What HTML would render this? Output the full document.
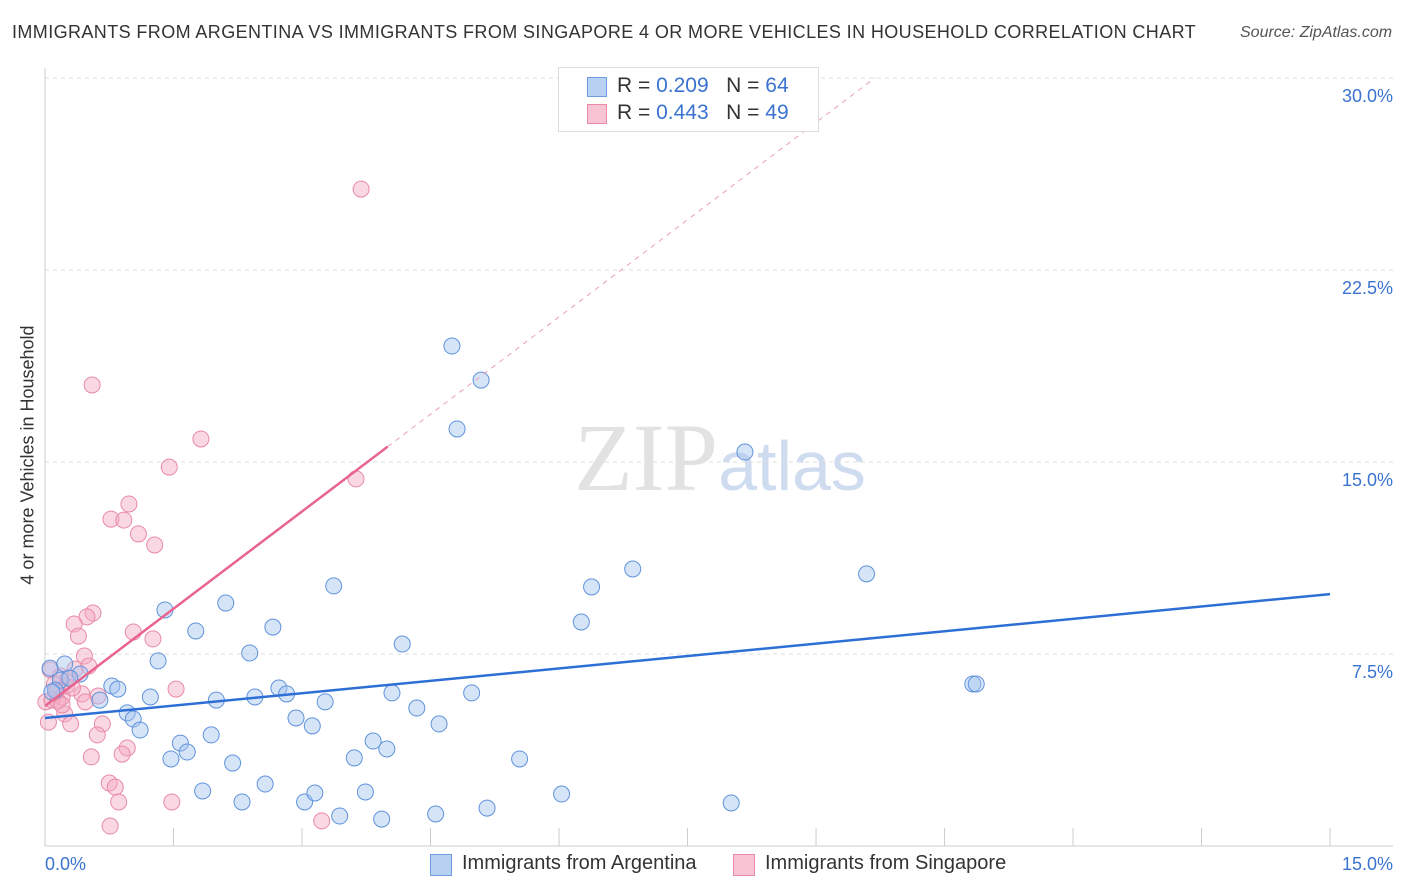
<!DOCTYPE html>
<html><head><meta charset="utf-8">
<style>
body{margin:0;background:#fff;font-family:"Liberation Sans",sans-serif;}
#wrap{position:relative;width:1406px;height:892px;overflow:hidden;}
.t{position:absolute;white-space:nowrap;}
</style></head><body>
<div id="wrap">
<div class="t" style="left:12px;top:22px;font-size:18px;letter-spacing:0.4px;color:#333;">IMMIGRANTS FROM ARGENTINA VS IMMIGRANTS FROM SINGAPORE 4 OR MORE VEHICLES IN HOUSEHOLD CORRELATION CHART</div>
<div class="t" style="left:1240px;top:24px;font-size:16px;color:#555;font-style:italic;">Source: ZipAtlas.com</div>
<div class="t" style="left:28px;top:455px;font-size:18px;color:#333;transform:translate(-50%,-50%) rotate(-90deg);">4 or more Vehicles in Household</div>
<svg id="svg" width="1406" height="892" style="position:absolute;left:0;top:0">
<text x="720" y="490" text-anchor="middle" font-family="Liberation Serif" font-size="96" fill="#e2e2e2">ZIP<tspan font-family="Liberation Sans" font-size="70" fill="#cfdcf0">atlas</tspan></text>
</svg>
<div style="position:absolute;left:558px;top:67px;width:259px;height:63px;border:1px solid #ddd;background:#fff;font-size:21px;color:#333;">
<div style="position:absolute;left:28px;top:9px;width:18px;height:18px;background:#b8d1f3;border:1px solid #6d9ee0"></div>
<div class="t" style="left:58px;top:6px">R = <span style="color:#3b73d1">0.209</span>&nbsp;&nbsp;&nbsp;N = <span style="color:#3b73d1">64</span></div>
<div style="position:absolute;left:28px;top:36px;width:18px;height:18px;background:#f8c4d4;border:1px solid #e88aa8"></div>
<div class="t" style="left:58px;top:33px">R = <span style="color:#3b73d1">0.443</span>&nbsp;&nbsp;&nbsp;N = <span style="color:#3b73d1">49</span></div>
</div>
<div style="position:absolute;left:430px;top:852px;font-size:20px;color:#333;">
<div style="position:absolute;left:0;top:2px;width:20px;height:20px;background:#b8d1f3;border:1px solid #6d9ee0"></div>
<div class="t" style="left:32px;top:0">Immigrants from Argentina</div>
<div style="position:absolute;left:303px;top:2px;width:20px;height:20px;background:#f8c4d4;border:1px solid #e88aa8"></div>
<div class="t" style="left:335px;top:0">Immigrants from Singapore</div>
</div>
</div>
<script>
const yTicks=[7.5,15,22.5,30];
const yTickLabels=["7.5%","15.0%","22.5%","30.0%"];
const xTicks=[1.5,3,4.5,6,7.5,9,10.5,12,13.5,15];
const xLabels=["0.0%","15.0%"];
const blueTrend=[5.0,9.84];
const pinkTrend=[5.47,15.6];
const bluePx=[[452,346],[481,380],[457,429],[745,452],[633,569],[867,574],[592,587],[334,586],[581,622],[165,610],[226,603],[196,631],[273,627],[402,644],[250,653],[158,661],[973,684],[976,684],[50,668],[65,664],[80,674],[60,680],[55,690],[112,686],[118,689],[100,700],[150,697],[216,700],[255,697],[279,688],[287,694],[325,702],[392,693],[472,693],[417,708],[127,713],[133,719],[140,730],[296,718],[312,726],[439,724],[180,743],[187,752],[211,735],[171,759],[233,763],[354,758],[373,741],[387,749],[520,759],[265,784],[203,791],[242,802],[305,802],[315,793],[365,792],[562,794],[731,803],[487,808],[340,816],[382,819],[436,814],[52,692],[70,678]];
const pinkPx=[[361,189],[92,385],[201,439],[169,467],[356,479],[129,504],[111,519],[124,520],[138,534],[155,545],[93,613],[87,617],[74,624],[78,636],[133,632],[153,639],[84,656],[89,666],[75,669],[60,676],[50,670],[54,684],[66,686],[82,694],[176,689],[62,697],[46,702],[52,700],[58,701],[48,722],[65,714],[71,724],[102,724],[97,735],[127,748],[122,754],[91,757],[109,783],[115,787],[119,802],[172,802],[110,826],[322,821],[56,692],[72,688],[98,696],[62,705],[85,702],[68,678]];
// data values (percent)
const blueX=bluePx.map(p=>+((p[0]-45)/85.67).toFixed(2));
const blueY=bluePx.map(p=>+((846-p[1])/25.6).toFixed(2));
const pinkX=pinkPx.map(p=>+((p[0]-45)/85.67).toFixed(2));
const pinkY=pinkPx.map(p=>+((846-p[1])/25.6).toFixed(2));
const X=v=>45+v*85.67, Y=v=>846-v*25.6;
const svg=document.getElementById('svg');const NS='http://www.w3.org/2000/svg';
function mk(tag,a){const e=document.createElementNS(NS,tag);for(const k in a)e.setAttribute(k,a[k]);svg.appendChild(e);return e;}
yTicks.forEach((t,i)=>{
 const g=mk('line',{x1:45,x2:1393,y1:Y(t),y2:Y(t),stroke:'#ddd','stroke-dasharray':'4,4'});
 
 
 const l=mk('text',{x:1393,y:Y(t)+24,'text-anchor':'end','font-size':18,fill:'#3b73d1'});l.textContent=yTickLabels[i];
 
 
});
const ax=mk('line',{x1:45,x2:1393,y1:846,y2:846,stroke:'#ccc'});


const ay=mk('line',{x1:45,x2:45,y1:68,y2:846,stroke:'#ccc'});


xTicks.forEach(t=>{const e=mk('line',{x1:X(t),x2:X(t),y1:828,y2:846,stroke:'#ccc'});
 
 });
[[0,'start',45],[15,'end',1393]].forEach((d,i)=>{const l=mk('text',{x:d[2],y:870,'text-anchor':d[1],'font-size':18,fill:'#3b73d1'});l.textContent=xLabels[i];
 
 });
function dots(xs,ys,fill,stroke,name){xs.forEach((x,i)=>{const c=mk('circle',{cx:X(x),cy:Y(ys[i]),r:8,fill:fill,'fill-opacity':0.45,stroke:stroke,'stroke-width':1});
 
 });}
dots(pinkX,pinkY,'#f4a9c0','#e88aa8','singapore-point');
dots(blueX,blueY,'#a3c3ef','#5f93dc','argentina-point');
const bl=mk('line',{x1:X(0),y1:Y(blueTrend[0]),x2:X(15),y2:Y(blueTrend[1]),stroke:'#2e6fd6','stroke-width':2.5});


const slope=(pinkTrend[1]-pinkTrend[0])/4;
const xe=(30-pinkTrend[0])/slope;
const pd=mk('line',{x1:X(4),y1:Y(pinkTrend[1]),x2:X(xe),y2:Y(30),stroke:'#e8a0b5','stroke-width':1,'stroke-dasharray':'5,5'});


const pl=mk('line',{x1:X(0),y1:Y(pinkTrend[0]),x2:X(4),y2:Y(pinkTrend[1]),stroke:'#e8648f','stroke-width':2.5});


</script>
</body></html>
